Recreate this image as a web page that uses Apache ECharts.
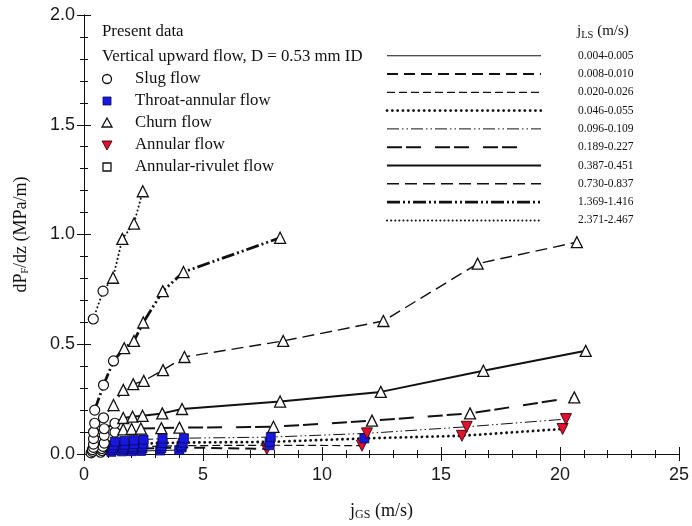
<!DOCTYPE html>
<html>
<head>
<meta charset="utf-8">
<script src="https://cdn.jsdelivr.net/npm/echarts@6/dist/echarts.min.js"></script>
<style>
  html, body { margin: 0; padding: 0; background: #fff; }
  #chart { width: 692px; height: 526px; }
</style>
</head>
<body>
<div id="chart"></div>
<script>
// Liquid superficial velocity ranges, one curve per range (m/s)
const jlsRanges = ['0.004-0.005', '0.008-0.010', '0.020-0.026', '0.046-0.055', '0.096-0.109',
                   '0.189-0.227', '0.387-0.451', '0.730-0.837', '1.369-1.416', '2.371-2.467'];

// Gas superficial velocity jGS (m/s), frictional gradient dPF/dz (MPa/m) and flow regime per point
// Regime codes: S = slug, T = throat-annular, C = churn, A = annular
const jgs_0004 = [0.3, 0.7, 1.15, 1.6, 2.0, 2.4, 3.2, 4.0];
const dp_0004  = [0.005, 0.008, 0.010, 0.012, 0.013, 0.014, 0.016, 0.018];
const reg_0004 = ['S', 'S', 'T', 'T', 'T', 'T', 'T', 'T'];

const jgs_0008 = [0.35, 0.75, 1.2, 1.65, 2.05, 2.45, 3.25, 4.1, 7.68];
const dp_0008  = [0.012, 0.016, 0.019, 0.021, 0.023, 0.025, 0.027, 0.030, 0.023];
const reg_0008 = ['S', 'S', 'T', 'T', 'T', 'T', 'T', 'T', 'A'];

const jgs_0020 = [0.35, 0.75, 1.2, 1.65, 2.05, 2.45, 3.25, 4.1, 7.8, 11.68];
const dp_0020  = [0.020, 0.025, 0.028, 0.030, 0.032, 0.034, 0.036, 0.038, 0.040, 0.038];
const reg_0020 = ['S', 'S', 'T', 'T', 'T', 'T', 'T', 'T', 'T', 'A'];

const jgs_0046 = [0.4, 0.8, 1.25, 1.7, 2.1, 2.5, 3.3, 4.15, 7.8, 11.78, 15.88, 20.11];
const dp_0046  = [0.030, 0.035, 0.040, 0.042, 0.045, 0.047, 0.050, 0.052, 0.055, 0.071, 0.083, 0.114];
const reg_0046 = ['S', 'S', 'T', 'T', 'T', 'T', 'T', 'T', 'T', 'T', 'A', 'A'];

const jgs_0096 = [0.4, 0.85, 1.3, 1.7, 2.1, 2.5, 3.3, 4.2, 7.85, 11.89, 16.08, 20.25];
const dp_0096  = [0.045, 0.050, 0.056, 0.060, 0.063, 0.066, 0.070, 0.072, 0.077, 0.094, 0.124, 0.159];
const reg_0096 = ['S', 'S', 'T', 'T', 'T', 'T', 'T', 'T', 'T', 'A', 'A', 'A'];

const jgs_0189 = [0.4, 0.85, 1.3, 1.65, 2.0, 2.39, 3.25, 4.01, 7.96, 12.1, 16.22, 20.6];
const dp_0189  = [0.070, 0.085, 0.100, 0.112, 0.114, 0.116, 0.118, 0.120, 0.124, 0.152, 0.185, 0.258];
const reg_0189 = ['S', 'S', 'S', 'C', 'C', 'C', 'C', 'C', 'C', 'C', 'C', 'C'];

const jgs_0387 = [0.4, 0.85, 1.3, 1.65, 2.04, 2.46, 3.29, 4.12, 8.24, 12.47, 16.78, 21.08];
const dp_0387  = [0.100, 0.115, 0.140, 0.164, 0.170, 0.174, 0.185, 0.205, 0.239, 0.283, 0.379, 0.470];
const reg_0387 = ['S', 'S', 'S', 'C', 'C', 'C', 'C', 'C', 'C', 'C', 'C', 'C'];

const jgs_0730 = [0.45, 0.82, 1.24, 1.65, 2.07, 2.51, 3.32, 4.22, 8.37, 12.58, 16.54, 20.71];
const dp_0730  = [0.140, 0.165, 0.223, 0.292, 0.318, 0.333, 0.382, 0.442, 0.515, 0.606, 0.867, 0.965];
const reg_0730 = ['S', 'S', 'C', 'C', 'C', 'C', 'C', 'C', 'C', 'C', 'C', 'C'];

const jgs_1369 = [0.45, 0.82, 1.24, 1.69, 2.10, 2.49, 3.31, 4.18, 8.24];
const dp_1369  = [0.200, 0.314, 0.424, 0.482, 0.515, 0.599, 0.742, 0.829, 0.985];
const reg_1369 = ['S', 'S', 'S', 'C', 'C', 'C', 'C', 'C', 'C'];

const jgs_2371 = [0.39, 0.80, 1.22, 1.61, 2.10, 2.47];
const dp_2371  = [0.615, 0.742, 0.803, 0.980, 1.050, 1.197];
const reg_2371 = ['S', 'S', 'C', 'C', 'C', 'C'];

const xTickLabels = ['0', '5', '10', '15', '20', '25'];
const yTickLabels = ['0.0', '0.5', '1.0', '1.5', '2.0'];

const curves = [
  [jgs_0004, dp_0004, reg_0004], [jgs_0008, dp_0008, reg_0008], [jgs_0020, dp_0020, reg_0020],
  [jgs_0046, dp_0046, reg_0046], [jgs_0096, dp_0096, reg_0096], [jgs_0189, dp_0189, reg_0189],
  [jgs_0387, dp_0387, reg_0387], [jgs_0730, dp_0730, reg_0730], [jgs_1369, dp_1369, reg_1369],
  [jgs_2371, dp_2371, reg_2371]
];

// Line pattern for each jLS range
const lineStyles = [
  { width: 1.1, dash: null, cap: 'butt' },
  { width: 2.0, dash: [11, 6], cap: 'butt' },
  { width: 1.2, dash: [8, 4], cap: 'butt' },
  { width: 2.8, dash: [0.1, 5.2], cap: 'round' },
  { width: 1.0, dash: [12, 3, 1.5, 3, 1.5, 3], cap: 'butt' },
  { width: 2.0, dash: [15, 4, 15, 14], cap: 'butt' },
  { width: 2.0, dash: null, cap: 'butt' },
  { width: 1.4, dash: [12, 6], cap: 'butt' },
  { width: 2.8, dash: [13, 3, 2, 3, 2, 3], cap: 'butt' },
  { width: 2.0, dash: [0.1, 4], cap: 'round' }
];

// Marker look for each flow regime
const regimeMarkers = {
  S: { symbol: 'circle', size: 10, rotate: 0, fill: '#ffffff', stroke: '#111', bw: 1.2 },
  T: { symbol: 'rect', size: 9, rotate: 0, fill: '#1717e0', stroke: '#0a0a50', bw: 0.8 },
  C: { symbol: 'triangle', size: 11, rotate: 0, fill: '#ffffff', stroke: '#111', bw: 1.3 },
  A: { symbol: 'triangle', size: 11, rotate: 180, fill: '#e0102e', stroke: '#3a0008', bw: 0.9 }
};

const series = curves.map(([xs, ys, regs], i) => {
  const ls = lineStyles[i];
  return {
    type: 'line',
    name: jlsRanges[i],
    z: 2 + i,
    data: xs.map((x, k) => {
      const m = regimeMarkers[regs[k]];
      return {
        value: [x, ys[k]],
        symbol: m.symbol,
        symbolSize: m.size,
        symbolRotate: m.rotate,
        itemStyle: { color: m.fill, borderColor: m.stroke, borderWidth: m.bw }
      };
    }),
    showAllSymbol: true,
    lineStyle: { color: '#111', width: ls.width, type: ls.dash || 'solid', cap: ls.cap },
    animation: false,
    silent: true
  };
});

// Legends drawn as graphics: regime markers on the left, line patterns on the right
const serif = 'Liberation Serif';
const legendFont = '16.8px "Liberation Serif"';
const graphics = [];
graphics.push({ type: 'text', x: 102, y: 32, style: { text: 'Present data', font: legendFont, fill: '#111', verticalAlign: 'middle' } });
graphics.push({ type: 'text', x: 102, y: 57, style: { text: 'Vertical upward flow, D = 0.53 mm ID', font: legendFont, fill: '#111', verticalAlign: 'middle' } });
const regimeNames = [['S', 'Slug flow'], ['T', 'Throat-annular flow'], ['C', 'Churn flow'], ['A', 'Annular flow'], ['R', 'Annular-rivulet flow']];
regimeNames.forEach(([code, label], k) => {
  const cy = 79 + k * 22;
  graphics.push({ type: 'text', x: 135, y: cy, style: { text: label, font: legendFont, fill: '#111', verticalAlign: 'middle' } });
  let shape;
  if (code === 'S') shape = { type: 'circle', shape: { cx: 107, cy: cy, r: 4.5 }, style: { fill: '#fff', stroke: '#111', lineWidth: 1.3 } };
  else if (code === 'T') shape = { type: 'rect', shape: { x: 103, y: cy - 4, width: 8, height: 8 }, style: { fill: '#1717e0', stroke: '#0a0a50', lineWidth: 0.8 } };
  else if (code === 'C') shape = { type: 'polygon', shape: { points: [[107, cy - 5], [112, cy + 4], [102, cy + 4]] }, style: { fill: '#fff', stroke: '#111', lineWidth: 1.3 } };
  else if (code === 'A') shape = { type: 'polygon', shape: { points: [[102, cy - 4], [112, cy - 4], [107, cy + 5]] }, style: { fill: '#e0102e', stroke: '#3a0008', lineWidth: 0.9 } };
  else shape = { type: 'rect', shape: { x: 103, y: cy - 4, width: 8, height: 8 }, style: { fill: '#fff', stroke: '#111', lineWidth: 1.3 } };
  graphics.push(shape);
});

graphics.push({
  type: 'text', left: 577, top: 24,
  style: {
    text: '{j|j}{sub|LS}{j| (m/s)}',
    rich: {
      j: { fontFamily: serif, fontSize: 15, fill: '#111' },
      sub: { fontFamily: serif, fontSize: 10.5, fill: '#111', verticalAlign: 'bottom', padding: [7, 0, 0, 0] }
    }
  }
});
jlsRanges.forEach((label, k) => {
  const y = 55.7 + k * 18.3;
  const ls = lineStyles[k];
  graphics.push({
    type: 'line',
    shape: { x1: 387, y1: y, x2: k === 5 ? 527 : 541, y2: y },
    style: { stroke: '#111', lineWidth: ls.width, lineDash: ls.dash || null, lineCap: ls.cap }
  });
  graphics.push({ type: 'text', x: 578, y: y, style: { text: label, font: '11.5px "Liberation Serif"', fill: '#111', verticalAlign: 'middle' } });
});

const chart = echarts.init(document.getElementById('chart'), null, { renderer: 'canvas' });
const axisLine = { show: true, lineStyle: { color: '#111', width: 1 } };
chart.setOption({
  backgroundColor: '#ffffff',
  animation: false,
  grid: { left: 84, right: 8, top: 15, bottom: 71, containLabel: false },
  xAxis: [
    {
      type: 'value', min: 0, max: 25, interval: 5,
      axisLine: axisLine,
      axisTick: { show: true, inside: true, length: 7, lineStyle: { color: '#111' } },
      minorTick: { show: true, splitNumber: 5, length: 4, lineStyle: { color: '#111' } },
      splitLine: { show: false },
      axisLabel: {
        margin: 12, color: '#1a1a1a', fontFamily: 'Liberation Sans', fontSize: 18,
        formatter: v => xTickLabels[Math.round(v / 5)]
      },
      name: '{j|j}{sub|GS}{j| (m/s)}',
      nameLocation: 'middle', nameGap: 47,
      nameTextStyle: {
        rich: {
          j: { fontFamily: serif, fontSize: 18, color: '#111' },
          sub: { fontFamily: serif, fontSize: 12, color: '#111', verticalAlign: 'bottom', padding: [8, 0, 0, 0] }
        }
      }
    },
    {
      type: 'value', position: 'top', min: 0, max: 25, interval: 5,
      axisLine: axisLine,
      axisTick: { show: true, inside: true, length: 7, lineStyle: { color: '#111' } },
      minorTick: { show: true, splitNumber: 5, length: 4, lineStyle: { color: '#111' } },
      splitLine: { show: false }, axisLabel: { show: false }
    }
  ],
  yAxis: [
    {
      type: 'value', min: 0, max: 2, interval: 0.5,
      axisLine: axisLine,
      axisTick: { show: true, inside: true, length: 7, lineStyle: { color: '#111' } },
      minorTick: { show: true, splitNumber: 5, length: 4, lineStyle: { color: '#111' } },
      splitLine: { show: false },
      axisLabel: {
        margin: 9, color: '#1a1a1a', fontFamily: 'Liberation Sans', fontSize: 18,
        formatter: v => yTickLabels[Math.round(v / 0.5)]
      },
      name: '{d|dP}{sub|F}{d|/dz (MPa/m)}',
      nameLocation: 'middle', nameGap: 54, nameRotate: 90,
      nameTextStyle: {
        rich: {
          d: { fontFamily: serif, fontSize: 18, color: '#111' },
          sub: { fontFamily: serif, fontSize: 10, color: '#111', verticalAlign: 'bottom', padding: [8, 0, 0, 0] }
        }
      }
    },
    {
      type: 'value', position: 'right', min: 0, max: 2, interval: 0.5,
      axisLine: axisLine,
      axisTick: { show: true, inside: true, length: 7, lineStyle: { color: '#111' } },
      minorTick: { show: true, splitNumber: 5, length: 4, lineStyle: { color: '#111' } },
      splitLine: { show: false }, axisLabel: { show: false }
    }
  ],
  graphic: graphics,
  series: series
});
</script>
</body>
</html>
